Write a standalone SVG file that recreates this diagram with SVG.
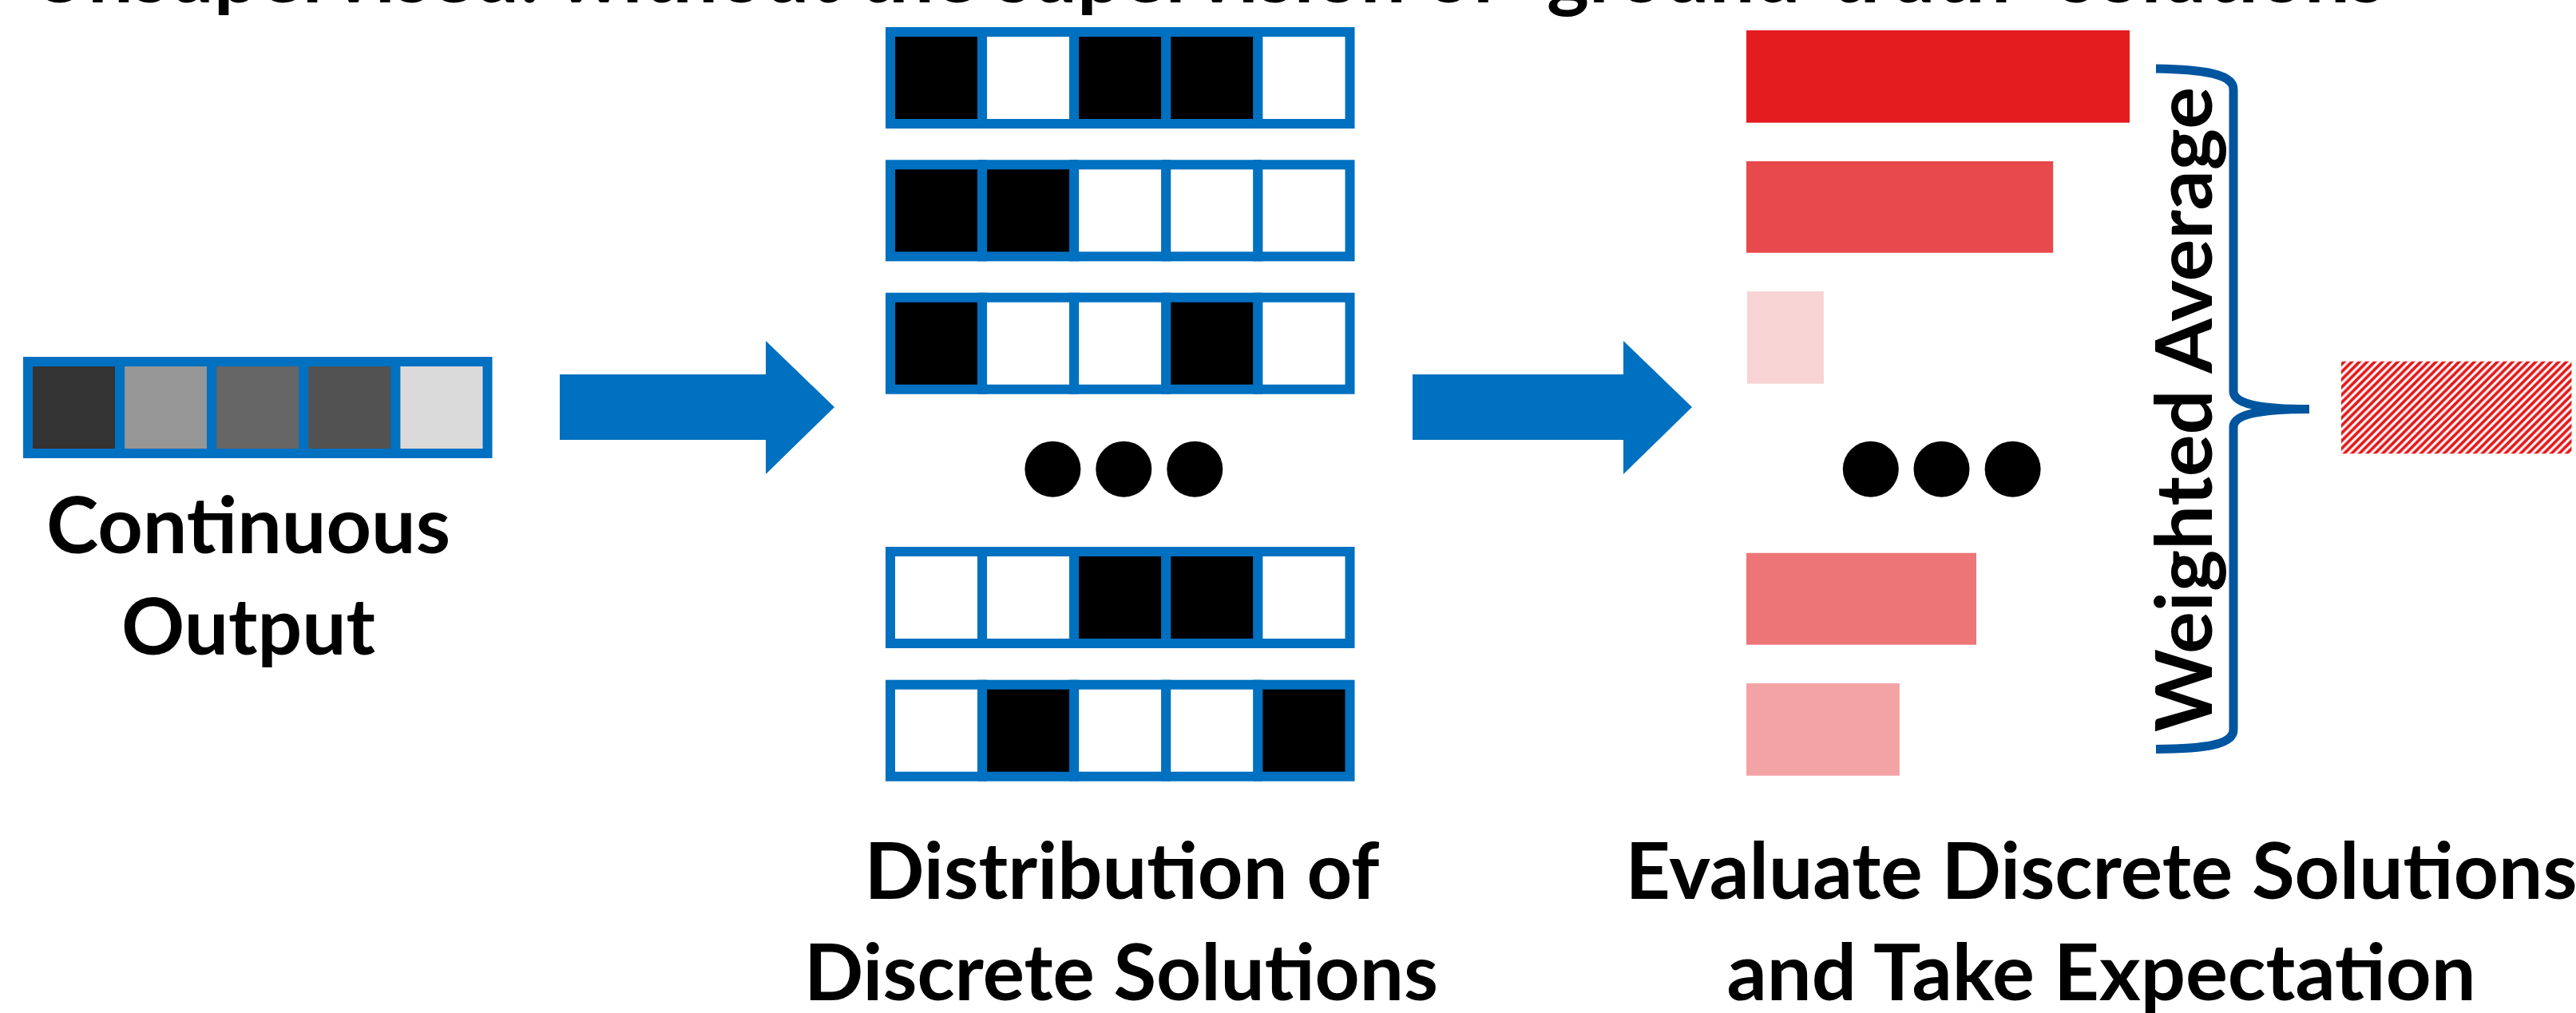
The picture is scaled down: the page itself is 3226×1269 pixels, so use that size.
<svg xmlns="http://www.w3.org/2000/svg" width="3226" height="1269" viewBox="0 0 3226 1269">
  <style>
    .lbl { font-family: Lato, "Liberation Sans", Arial, sans-serif; font-weight: bold; font-size: 97px; fill: #000; }
    .cell { stroke: #0070c0; stroke-width: 12; }
    .b { fill: #000; }
    .w { fill: #fff; }
    .dot { fill: #000; }
    .arrow { fill: #0070c0; }
    .brace { fill: none; stroke: #00559f; stroke-width: 11; }
  </style>
  <defs>
    <pattern id="hatch" patternUnits="userSpaceOnUse" width="9.6" height="9.6">
      <rect width="9.6" height="9.6" fill="#fff"/>
      <path d="M-2.4,2.4 L2.4,-2.4 M0,9.6 L9.6,0 M7.2,12 L12,7.2" stroke="#e41a1c" stroke-width="3.8"/>
    </pattern>
  </defs>
  <rect width="3226" height="1269" fill="#fff"/>

  <g id="title">
    <text class="lbl" x="37" y="3" font-size="96" textLength="2950" lengthAdjust="spacingAndGlyphs">Unsupervised: without the supervision of “ground-truth” solutions</text>
  </g>

  <g id="continuous-output">
    <rect class="cell" x="35" y="453" width="115.1" height="115" fill="#333333"/>
    <rect class="cell" x="150.1" y="453" width="115.1" height="115" fill="#969696"/>
    <rect class="cell" x="265.2" y="453" width="115.1" height="115" fill="#666666"/>
    <rect class="cell" x="380.3" y="453" width="115.1" height="115" fill="#525252"/>
    <rect class="cell" x="495.4" y="453" width="115.1" height="115" fill="#dadada"/>
    <text class="lbl" x="311" y="693" text-anchor="middle" textLength="506" lengthAdjust="spacingAndGlyphs">Continuous</text>
    <text class="lbl" x="311" y="820" text-anchor="middle" textLength="318" lengthAdjust="spacingAndGlyphs">Output</text>
  </g>

  <g id="discrete-distribution">
    <g id="solution-1">
      <rect class="cell b" x="1115" y="40" width="115.1" height="115"/>
      <rect class="cell w" x="1230.1" y="40" width="115.1" height="115"/>
      <rect class="cell b" x="1345.2" y="40" width="115.1" height="115"/>
      <rect class="cell b" x="1460.3" y="40" width="115.1" height="115"/>
      <rect class="cell w" x="1575.4" y="40" width="115.1" height="115"/>
    </g>
    <g id="solution-2">
      <rect class="cell b" x="1115" y="206.3" width="115.1" height="115"/>
      <rect class="cell b" x="1230.1" y="206.3" width="115.1" height="115"/>
      <rect class="cell w" x="1345.2" y="206.3" width="115.1" height="115"/>
      <rect class="cell w" x="1460.3" y="206.3" width="115.1" height="115"/>
      <rect class="cell w" x="1575.4" y="206.3" width="115.1" height="115"/>
    </g>
    <g id="solution-3">
      <rect class="cell b" x="1115" y="372.7" width="115.1" height="115"/>
      <rect class="cell w" x="1230.1" y="372.7" width="115.1" height="115"/>
      <rect class="cell w" x="1345.2" y="372.7" width="115.1" height="115"/>
      <rect class="cell b" x="1460.3" y="372.7" width="115.1" height="115"/>
      <rect class="cell w" x="1575.4" y="372.7" width="115.1" height="115"/>
    </g>
    <g id="dots-1">
      <circle class="dot" cx="1318.4" cy="587.7" r="35"/>
      <circle class="dot" cx="1407.3" cy="587.7" r="35"/>
      <circle class="dot" cx="1496.3" cy="587.7" r="35"/>
    </g>
    <g id="solution-4">
      <rect class="cell w" x="1115" y="691" width="115.1" height="115"/>
      <rect class="cell w" x="1230.1" y="691" width="115.1" height="115"/>
      <rect class="cell b" x="1345.2" y="691" width="115.1" height="115"/>
      <rect class="cell b" x="1460.3" y="691" width="115.1" height="115"/>
      <rect class="cell w" x="1575.4" y="691" width="115.1" height="115"/>
    </g>
    <g id="solution-5">
      <rect class="cell w" x="1115" y="857.7" width="115.1" height="115"/>
      <rect class="cell b" x="1230.1" y="857.7" width="115.1" height="115"/>
      <rect class="cell w" x="1345.2" y="857.7" width="115.1" height="115"/>
      <rect class="cell w" x="1460.3" y="857.7" width="115.1" height="115"/>
      <rect class="cell b" x="1575.4" y="857.7" width="115.1" height="115"/>
    </g>
    <text class="lbl" x="1405" y="1126" text-anchor="middle" textLength="645" lengthAdjust="spacingAndGlyphs">Distribution of</text>
    <text class="lbl" x="1404" y="1253" text-anchor="middle" textLength="794" lengthAdjust="spacingAndGlyphs">Discrete Solutions</text>
  </g>

  <g id="evaluation">
    <rect x="2187" y="38" width="480" height="115.7" fill="#e41b1f"/>
    <rect x="2187" y="202" width="384.2" height="114.7" fill="#e8494c"/>
    <rect x="2188" y="365" width="95.9" height="115.7" fill="#f8d3d4"/>
    <g id="dots-2">
      <circle class="dot" cx="2342.8" cy="587.7" r="35"/>
      <circle class="dot" cx="2431.5" cy="587.7" r="35"/>
      <circle class="dot" cx="2520.6" cy="587.7" r="35"/>
    </g>
    <rect x="2187" y="692.7" width="288" height="115" fill="#ed7577"/>
    <rect x="2187" y="856" width="191.9" height="115.7" fill="#f4a3a5"/>
    <text class="lbl" x="2631.5" y="1126" text-anchor="middle" textLength="1192" lengthAdjust="spacingAndGlyphs">Evaluate Discrete Solutions</text>
    <text class="lbl" x="2631.5" y="1253" text-anchor="middle" textLength="938" lengthAdjust="spacingAndGlyphs">and Take Expectation</text>
  </g>

  <g id="weighted-average">
    <path class="brace" d="M2700,86 C2762,87 2797,93 2797,112 L2797,490 C2797,506 2830,512.5 2892,512.5 M2892,512.5 C2830,512.5 2797,519 2797,535 L2797,914 C2797,933 2762,938 2700,938.5"/>
    <text class="lbl" transform="translate(2770,513) rotate(-90)" text-anchor="middle" textLength="808" lengthAdjust="spacingAndGlyphs">Weighted Average</text>
  </g>

  <g id="expected-output">
    <rect x="2932" y="452.7" width="288.5" height="115.6" fill="url(#hatch)"/>
  </g>

  <g id="connectors">
    <polygon class="arrow" points="701,469 959,469 959,427 1045,510 959,594 959,551 701,551"/>
    <polygon class="arrow" points="1769,469 2033,469 2033,427 2119,510 2033,594 2033,551 1769,551"/>
  </g>
</svg>
